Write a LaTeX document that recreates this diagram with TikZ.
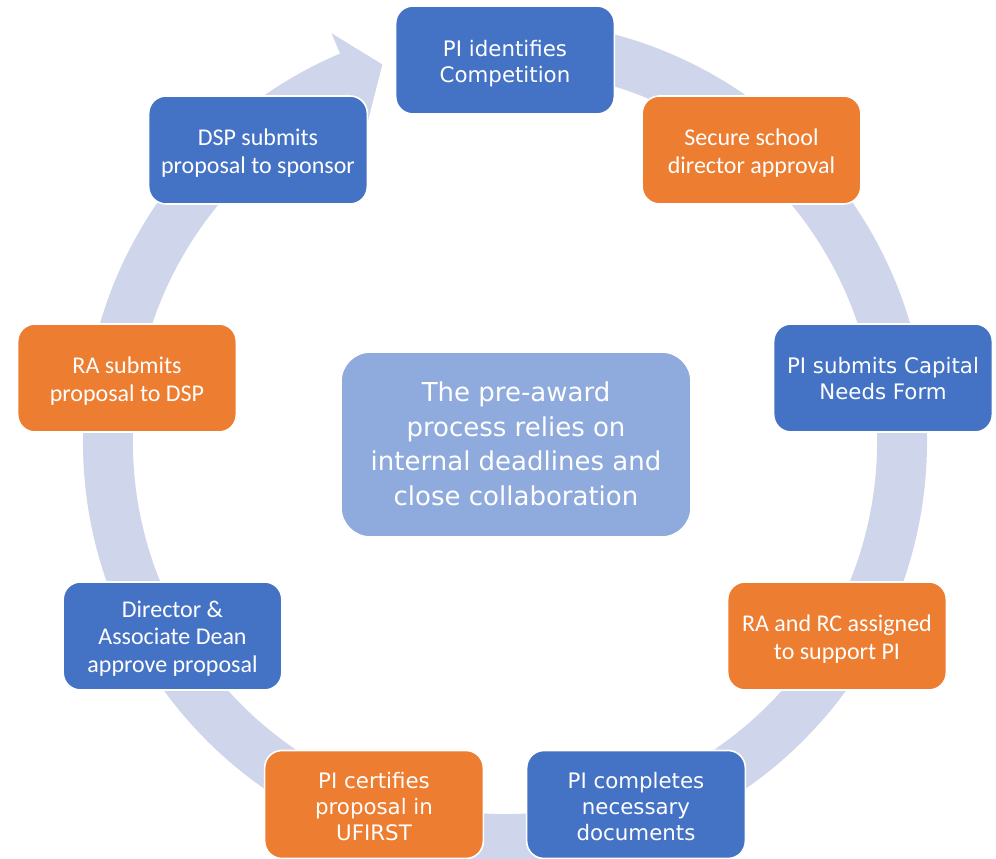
\documentclass[tikz,border=0pt]{standalone}
\usepackage{fontspec}
\setmainfont{DejaVu Sans}
\newfontfamily\calfont{Carlito}
\newfontfamily\tahfont{DejaVu Sans}
\usetikzlibrary{calc}
\definecolor{accBlue}{HTML}{4472C4}
\definecolor{accOrange}{HTML}{ED7D31}
\definecolor{centerBlue}{HTML}{8FAADC}
\definecolor{ringCol}{HTML}{CFD5EA}
\newcommand\boxlines[2][-3pt]{\raisebox{#1}[\height][\depth]{\begin{tabular}{@{}c@{}}#2\end{tabular}}}
\tikzset{
  box/.style={rounded corners=13pt, draw=white, line width=1.2pt, minimum width=164pt, minimum height=81pt, text=white, align=center, inner sep=0pt},
  bluebox/.style={box, fill=accBlue},
  orangebox/.style={box, fill=accOrange},
  tah/.style={font=\tahfont\fontsize{16}{19.5}\selectfont},
  cal/.style={font=\calfont\fontsize{18}{20.5}\selectfont},
}
\begin{document}
\begin{tikzpicture}[x=0.75pt,y=0.75pt]
\useasboundingbox (0,0) rectangle (996,859);
\coordinate (C) at (505,417);
% circular arrow ring
\fill[ringCol] ($(C)+(85:316.5pt)$) arc[start angle=85, end angle=-247, radius=316.5pt]
  -- ($(C)+(113:333pt)$) -- ($(C)+(108:297.75pt)$) -- ($(C)+(113:262.5pt)$)
  -- ($(C)+(113:279pt)$) arc[start angle=113, end angle=445, radius=279pt] -- cycle;
% step boxes
\node[bluebox, tah] (n1) at (505,799) {\boxlines[-3.5pt]{PI identifies\\Competition}};
\node[orangebox, cal] (n2) at (751.5,709) {\boxlines{Secure school\\director approval}};
\node[bluebox, tah] (n3) at (883,481) {\boxlines[-2.5pt]{PI submits Capital\\Needs Form}};
\node[orangebox, cal] (n4) at (837,223) {\boxlines{RA and RC assigned\\to support PI}};
\node[bluebox, tah] (n5) at (636,54.5) {\boxlines[-3.5pt]{PI completes\\necessary\\documents}};
\node[orangebox, tah] (n6) at (374,54.5) {\boxlines[-3.5pt]{PI certifies\\proposal in\\UFIRST}};
\node[bluebox, cal] (n7) at (172.5,223) {\boxlines[-2.5pt]{Director \&\\Associate Dean\\approve proposal}};
\node[orangebox, cal] (n8) at (127,481) {\boxlines{RA submits\\proposal to DSP}};
\node[bluebox, cal] (n9) at (258,709) {\boxlines{DSP submits\\proposal to sponsor}};
% center box
\node[rounded corners=22pt, fill=centerBlue, draw=white, line width=1.2pt, minimum width=262.5pt, minimum height=138.75pt, text=white, align=center, inner sep=0pt, font=\tahfont\fontsize{19.5}{26}\selectfont] (ctr) at (516,414.5) {\boxlines[-1.5pt]{The pre-award\\process relies on\\internal deadlines and\\close collaboration}};
\end{tikzpicture}
\end{document}
